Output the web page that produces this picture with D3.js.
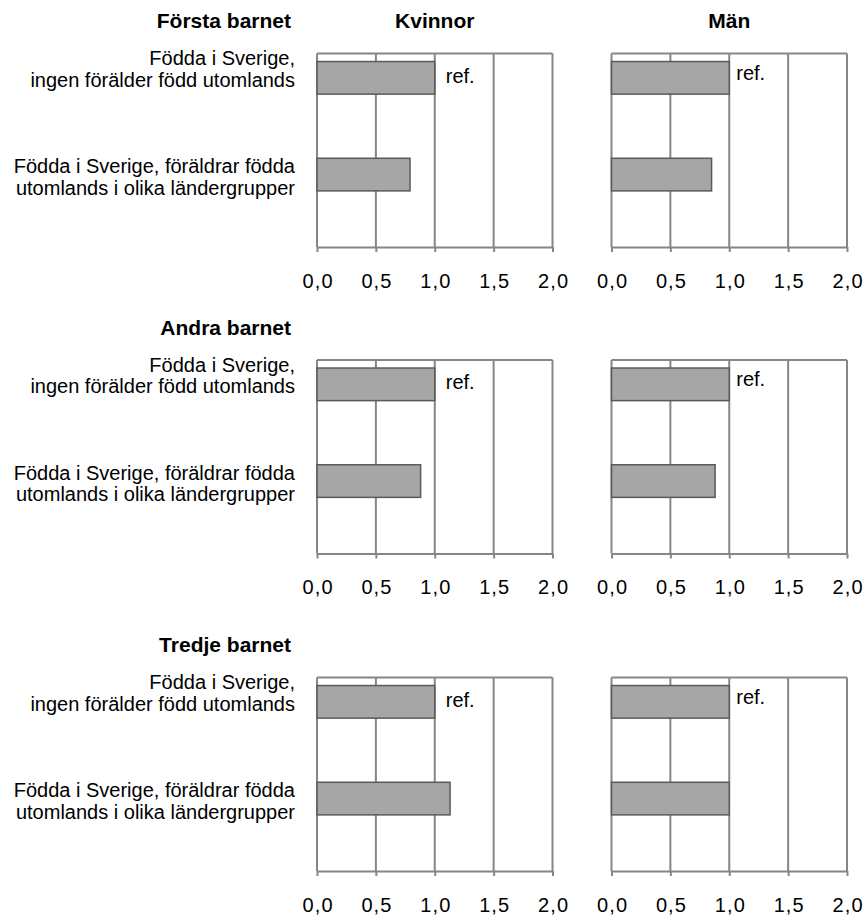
<!DOCTYPE html>
<html><head><meta charset="utf-8">
<script src="https://cdn.jsdelivr.net/npm/d3@7"></script>
<style>
html,body{margin:0;padding:0;background:#fff;}
svg{display:block;font-family:"Liberation Sans",Arial,sans-serif;}
</style></head>
<body>
<svg id="chart" width="864" height="916"></svg>
<script>
// ---- data ----
const rowTitles = ["Första barnet", "Andra barnet", "Tredje barnet"];
const columnTitles = ["Kvinnor", "Män"];
const categories = ["ingen", "utrikes"];
const categoryLines = [
  ["Födda i Sverige,", "ingen förälder född utomlands"],
  ["Födda i Sverige, föräldrar födda", "utomlands i olika ländergrupper"]
];
const kvinnorValues = [[1.0, 0.79], [1.0, 0.88], [1.0, 1.13]];
const manValues = [[1.0, 0.85], [1.0, 0.88], [1.0, 1.0]];
const refLabel = "ref.";
const tickValues = [0, 0.5, 1.0, 1.5, 2.0];
const tickLabels = ["0,0", "0,5", "1,0", "1,5", "2,0"];

// ---- layout ----
const svg = d3.select("#chart");
const rowTops = [53.5, 360, 677.5];
const plotH = 193.5;
const colRanges = [[317, 552.5], [611.5, 847]];
const labelRight = 295;
const gridColor = "#868686";
const seriesByCol = [kvinnorValues, manValues];
const refDx = [11, 7], refDy = [5, 2];
const lineOffsets = [[-12.5, 9], [-1.5, 20]];

columnTitles.forEach((t, ci) => {
  svg.append("text")
    .attr("x", (colRanges[ci][0] + colRanges[ci][1]) / 2)
    .attr("y", 28)
    .attr("text-anchor", "middle")
    .attr("font-size", 21).attr("font-weight", "bold")
    .text(t);
});

rowTitles.forEach((rt, ri) => {
  const top = rowTops[ri], bottom = top + plotH;
  const y = d3.scaleBand().domain(categories).range([top, bottom]).padding(0);
  const bw = y.bandwidth();
  const barOff = bw * 0.083, barH = bw * 0.337;

  svg.append("text")
    .attr("x", 291).attr("y", top - 25.5)
    .attr("text-anchor", "end")
    .attr("font-size", 21).attr("font-weight", "bold")
    .text(rt);

  // category labels
  categories.forEach((c, k) => {
    const cy = y(c) + barOff + barH / 2;
    categoryLines[k].forEach((ln, li) => {
      svg.append("text")
        .attr("x", labelRight)
        .attr("y", cy + lineOffsets[k][li])
        .attr("text-anchor", "end")
        .attr("font-size", 20)
        .text(ln);
    });
  });

  colRanges.forEach((rng, ci) => {
    const x = d3.scaleLinear().domain([0, 2]).range(rng);
    const g = svg.append("g");
    // gridlines
    g.selectAll("line.grid").data(tickValues.slice(1)).join("line")
      .attr("x1", d => x(d)).attr("x2", d => x(d))
      .attr("y1", top).attr("y2", bottom)
      .attr("stroke", gridColor).attr("stroke-width", 2);
    // top border
    g.append("line")
      .attr("x1", x(0)).attr("x2", x(2))
      .attr("y1", top).attr("y2", top)
      .attr("stroke", gridColor).attr("stroke-width", 2);
    // left axis line
    g.append("line")
      .attr("x1", x(0)).attr("x2", x(0))
      .attr("y1", top).attr("y2", bottom)
      .attr("stroke", gridColor).attr("stroke-width", 2);
    // bars
    const vals = seriesByCol[ci][ri];
    g.selectAll("rect.bar").data(categories).join("rect")
      .attr("x", x(0))
      .attr("y", c => y(c) + barOff)
      .attr("width", (c, k) => x(vals[k]) - x(0))
      .attr("height", barH)
      .attr("fill", "#a6a6a6")
      .attr("stroke", "#5a5a5a")
      .attr("stroke-width", 1.5);
    // ref label on the reference category
    const refCat = categories[0];
    svg.append("text")
      .attr("x", x(vals[0]) + refDx[ci])
      .attr("y", y(refCat) + barOff + barH / 2 + refDy[ci])
      .attr("font-size", 20)
      .text(refLabel);
    // bottom axis
    const ax = d3.axisBottom(x)
      .tickValues(tickValues)
      .tickFormat((d, i) => tickLabels[i])
      .tickSize(5).tickSizeOuter(0).tickPadding(21.5);
    const ag = svg.append("g").attr("transform", `translate(0,${bottom})`).call(ax);
    ag.select(".domain").attr("stroke", gridColor).attr("stroke-width", 2);
    ag.selectAll(".tick line").attr("stroke", gridColor).attr("stroke-width", 2);
    ag.selectAll(".tick text")
      .attr("font-size", 20)
      .attr("font-family", "'Liberation Sans', Arial, sans-serif")
      .attr("fill", "#000")
      .attr("textLength", 30)
      .attr("lengthAdjust", "spacing");
  });
});
</script>
</body></html>
